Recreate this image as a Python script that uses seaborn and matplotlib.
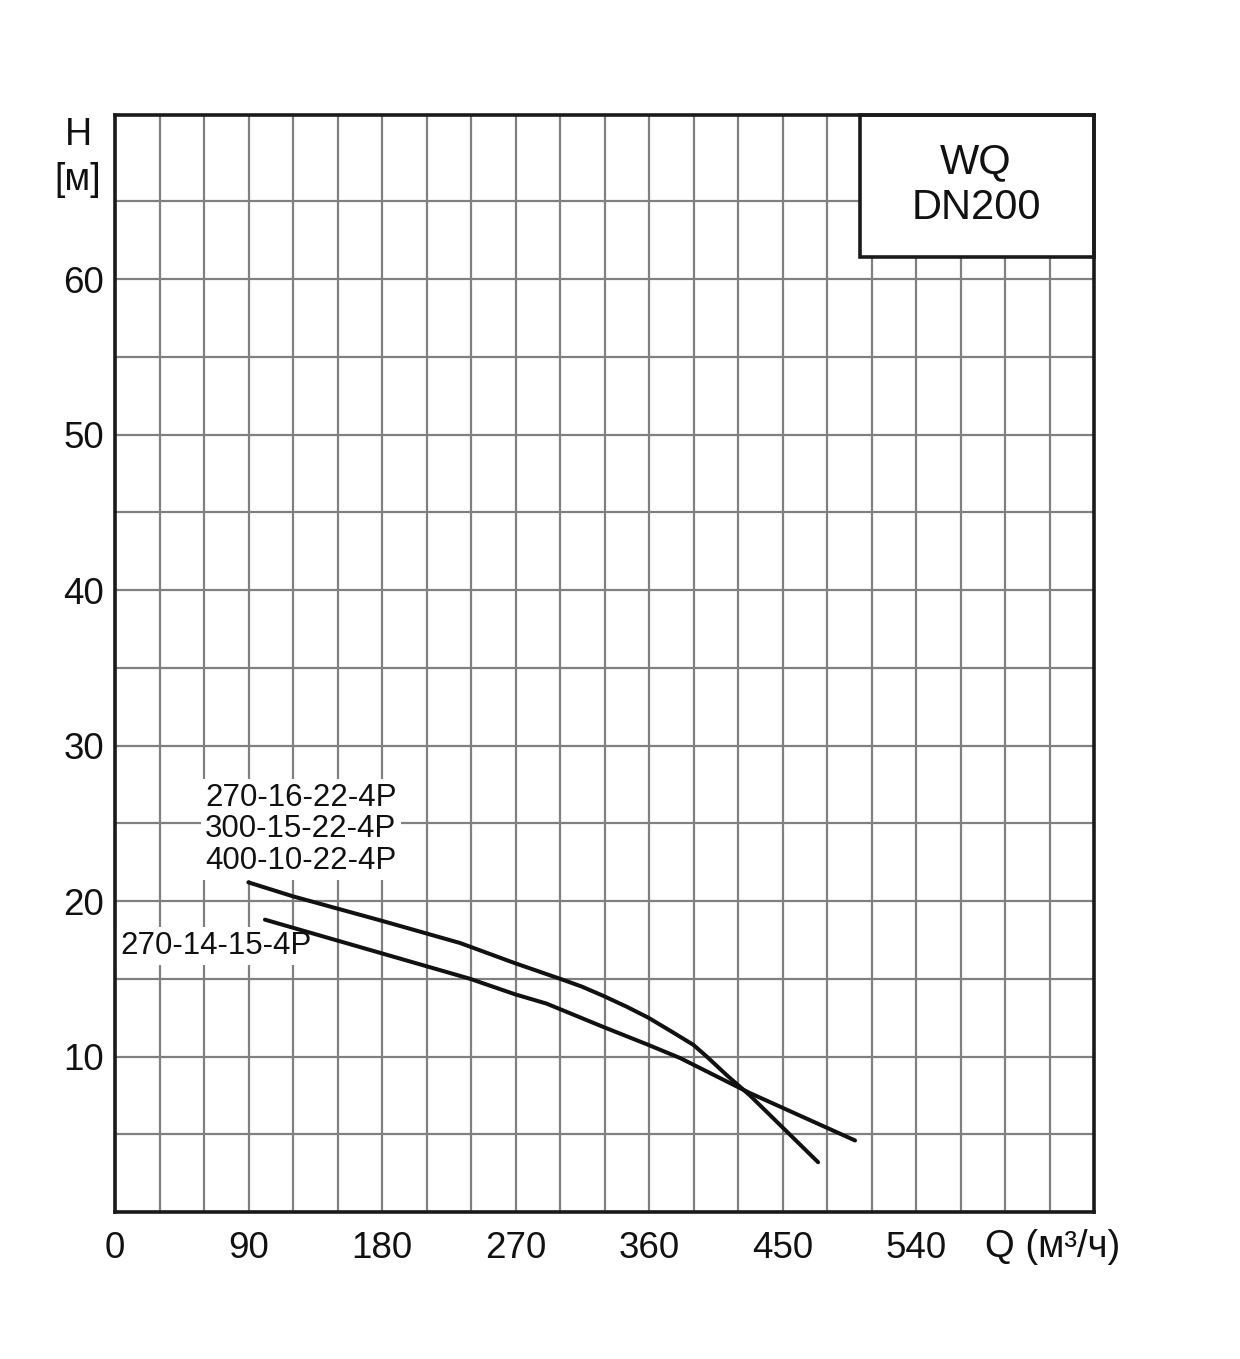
import pandas as pd
import seaborn as sns
import matplotlib.pyplot as plt
from matplotlib.patches import Rectangle

# кривые Q-H (м³/ч, м)
Q_A = [89.9, 120, 180.9, 232.6, 269.7, 300, 314.6, 329.2, 345, 359.5, 375.3,
       389.9, 398.9, 412.4, 428, 474]
H_A = [21.2, 20.3, 18.7, 17.3, 16.0, 15.0, 14.5, 13.9, 13.2, 12.5, 11.6,
       10.75, 10.0, 8.8, 7.5, 3.2]
Q_B = [101.1, 239.3, 269.7, 291, 329.2, 359.5, 381, 428, 498.9]
H_B = [18.8, 15.0, 14.0, 13.4, 11.9, 10.75, 9.9, 7.65, 4.6]

LABEL_A = "270-16-22-4P\n300-15-22-4P\n400-10-22-4P"
LABEL_B = "270-14-15-4P"

X_TICKS = list(range(0, 631, 30))
X_LABELS = [str(v) if v % 90 == 0 and v <= 540 else "" for v in X_TICKS]
Y_TICKS = list(range(0, 66, 5))
Y_LABELS = [str(v) if v % 10 == 0 and v > 0 else "" for v in Y_TICKS]

sns.set_style("white")
plt.rcParams['font.family'] = ['Liberation Sans', 'DejaVu Sans']

df = pd.concat([
    pd.DataFrame({"Q": Q_A, "H": H_A, "curve": "A"}),
    pd.DataFrame({"Q": Q_B, "H": H_B, "curve": "B"}),
], ignore_index=True)

fig = plt.figure(figsize=(12.4, 13.59), dpi=100)
ax = fig.add_axes([115 / 1240, 147 / 1359, 979 / 1240, 1097 / 1359])

sns.lineplot(data=df, x="Q", y="H", units="curve", estimator=None, sort=False,
             color="#111111", linewidth=2.9, ax=ax, zorder=4)

ax.set_xlim(0, 660)
ax.set_ylim(0, 70.55)
ax.set_xticks(X_TICKS)
ax.set_xticklabels(X_LABELS)
ax.set_yticks(Y_TICKS)
ax.set_yticklabels(Y_LABELS)
ax.tick_params(axis="both", length=0, labelsize=26.5, colors="#111111")
ax.tick_params(axis="x", pad=14)
ax.tick_params(axis="y", pad=8)
ax.set_xlabel("")
ax.set_ylabel("")
ax.grid(True, color="#808080", linewidth=1.6)
ax.set_axisbelow(True)
for s in ax.spines.values():
    s.set_linewidth(2.6)
    s.set_color("#1a1a1a")
    s.set_zorder(6)

# подписи кривых
ax.text(60.7, 24.6, LABEL_A, fontsize=22.5, ha="left", va="center", linespacing=1.08,
        color="#111111", zorder=3,
        bbox=dict(facecolor="white", edgecolor="none", pad=3))
ax.text(3.4, 17.1, LABEL_B, fontsize=22.5, ha="left", va="center", color="#111111",
        zorder=3, bbox=dict(facecolor="white", edgecolor="none", pad=3))

# рамка с названием
ax.add_patch(Rectangle((502.3, 61.4), 660 - 502.3, 70.55 - 61.4, facecolor="white",
                       edgecolor="#1a1a1a", linewidth=2.6, zorder=5, clip_on=False))
ax.text(580.5, 67.5, "WQ", fontsize=30, ha="center", va="center", color="#111111", zorder=6)
ax.text(580.5, 64.6, "DN200", fontsize=30, ha="center", va="center", color="#111111", zorder=6)

# подписи осей
fig.text(78 / 1240, 1 - 135 / 1359, "H", fontsize=27, ha="center", va="center", color="#111111")
fig.text(78 / 1240, 1 - 180 / 1359, "[м]", fontsize=27, ha="center", va="center", color="#111111")
fig.text(985 / 1240, 1 - 1247 / 1359, "Q (м³/ч)", fontsize=27.5, ha="left", va="center",
         color="#111111")

fig.savefig("out.png", dpi=100)
